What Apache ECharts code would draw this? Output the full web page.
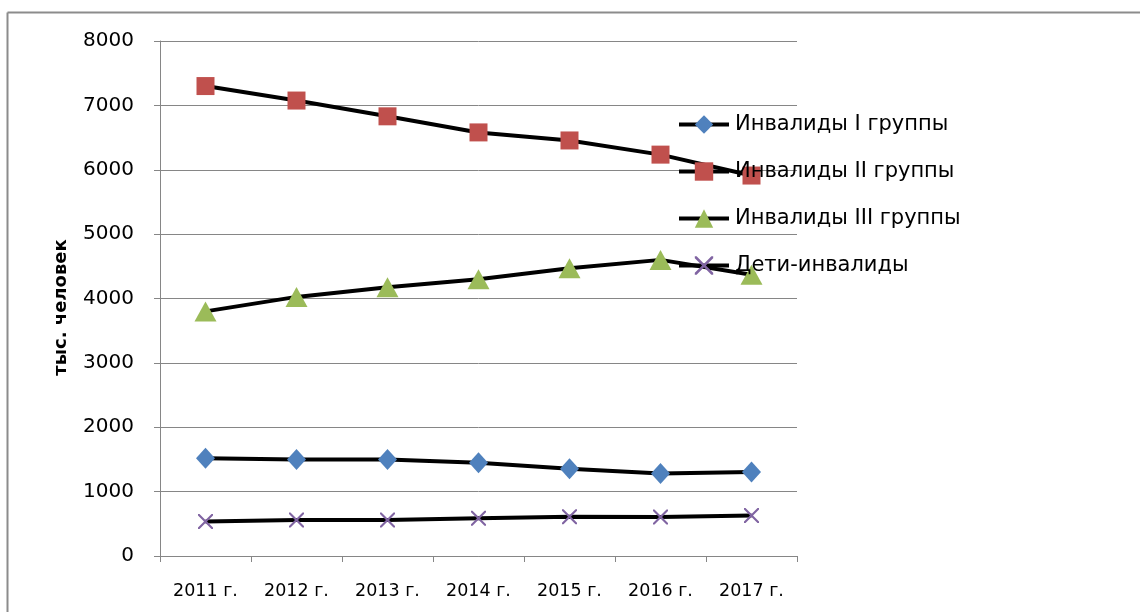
<!DOCTYPE html>
<html>
<head>
<meta charset="utf-8">
<script src="https://cdn.jsdelivr.net/npm/echarts@6/dist/echarts.min.js"></script>
<style>
  html, body { margin: 0; padding: 0; background: #fff; }
  #chart { width: 1140px; height: 612px; }
</style>
</head>
<body>
<div id="chart"></div>
<script>
// Численность инвалидов по группам, тыс. человек
const years = ['2011 г.', '2012 г.', '2013 г.', '2014 г.', '2015 г.', '2016 г.', '2017 г.'];
const groupI   = [1520, 1500, 1500, 1450, 1355, 1280, 1305];
const groupII  = [7300, 7075, 6830, 6580, 6455, 6235, 5910];
const groupIII = [3800, 4025, 4175, 4300, 4470, 4600, 4370];
const children = [535, 560, 560, 585, 610, 605, 630];

const seriesNames = ['Инвалиды I группы', 'Инвалиды II группы', 'Инвалиды III группы', 'Дети-инвалиды'];

const crossPath = 'path://M0,0L1,0L5,4L9,0L10,0L10,1L6,5L10,9L10,10L9,10L5,6L1,10L0,10L0,9L4,5L0,1Z';
const font = '"DejaVu Sans", "Liberation Sans", Arial, sans-serif';

function makeSeries(name, data, color, symbol, size) {
  return {
    name: name,
    type: 'line',
    data: data,
    symbol: symbol,
    symbolSize: size,
    itemStyle: { color: color, opacity: 1 },
    lineStyle: { color: '#000', width: 4 },
    emphasis: { disabled: true },
    animation: false,
    z: 3
  };
}

const chart = echarts.init(document.getElementById('chart'));
chart.setOption({
  backgroundColor: '#fff',
  animation: false,
  grid: { left: 160, right: 343, top: 41, bottom: 56 },
  legend: {
    orient: 'vertical',
    left: 672,
    top: 109,
    itemWidth: 50,
    itemHeight: 23,
    itemGap: 26,
    lineStyle: { width: 4, color: '#000' },
    textStyle: { fontSize: 21, color: '#000', fontFamily: font, padding: [0, 0, 0, 1] },
    data: seriesNames
  },
  xAxis: {
    type: 'category',
    data: years,
    boundaryGap: true,
    axisLine: { lineStyle: { color: '#868686', width: 1 } },
    axisTick: { show: true, length: 6, interval: 0, lineStyle: { color: '#868686' } },
    axisLabel: { fontSize: 17.5, color: '#000', fontFamily: font, margin: 26, interval: 0 }
  },
  yAxis: {
    type: 'value',
    min: 0,
    max: 8000,
    interval: 1000,
    name: 'тыс. человек',
    nameLocation: 'middle',
    nameGap: 90,
    nameRotate: 90,
    nameTextStyle: { fontSize: 18, fontWeight: 'bold', color: '#000', fontFamily: font, padding: [0, 18, 0, 0] },
    axisLine: { show: true, lineStyle: { color: '#868686', width: 1 } },
    axisTick: { show: true, length: 6, lineStyle: { color: '#868686' } },
    axisLabel: { fontSize: 20, color: '#000', fontFamily: font, margin: 26, formatter: v => String(v) },
    splitLine: { show: true, lineStyle: { color: '#868686', width: 1 } }
  },
  graphic: [
    { type: 'line', shape: { x1: 7.5, y1: 12.5, x2: 1140, y2: 12.5 }, style: { stroke: '#8c8c8c', lineWidth: 2 } },
    { type: 'line', shape: { x1: 7.5, y1: 12.5, x2: 7.5, y2: 612 }, style: { stroke: '#8c8c8c', lineWidth: 2 } }
  ],
  series: [
    makeSeries(seriesNames[0], groupI, '#4F81BD', 'diamond', [19, 21]),
    makeSeries(seriesNames[1], groupII, '#C0504D', 'rect', 18),
    makeSeries(seriesNames[2], groupIII, '#9BBB59', 'triangle', [22, 20]),
    makeSeries(seriesNames[3], children, '#8064A2', crossPath, 15)
  ]
});
</script>
</body>
</html>
